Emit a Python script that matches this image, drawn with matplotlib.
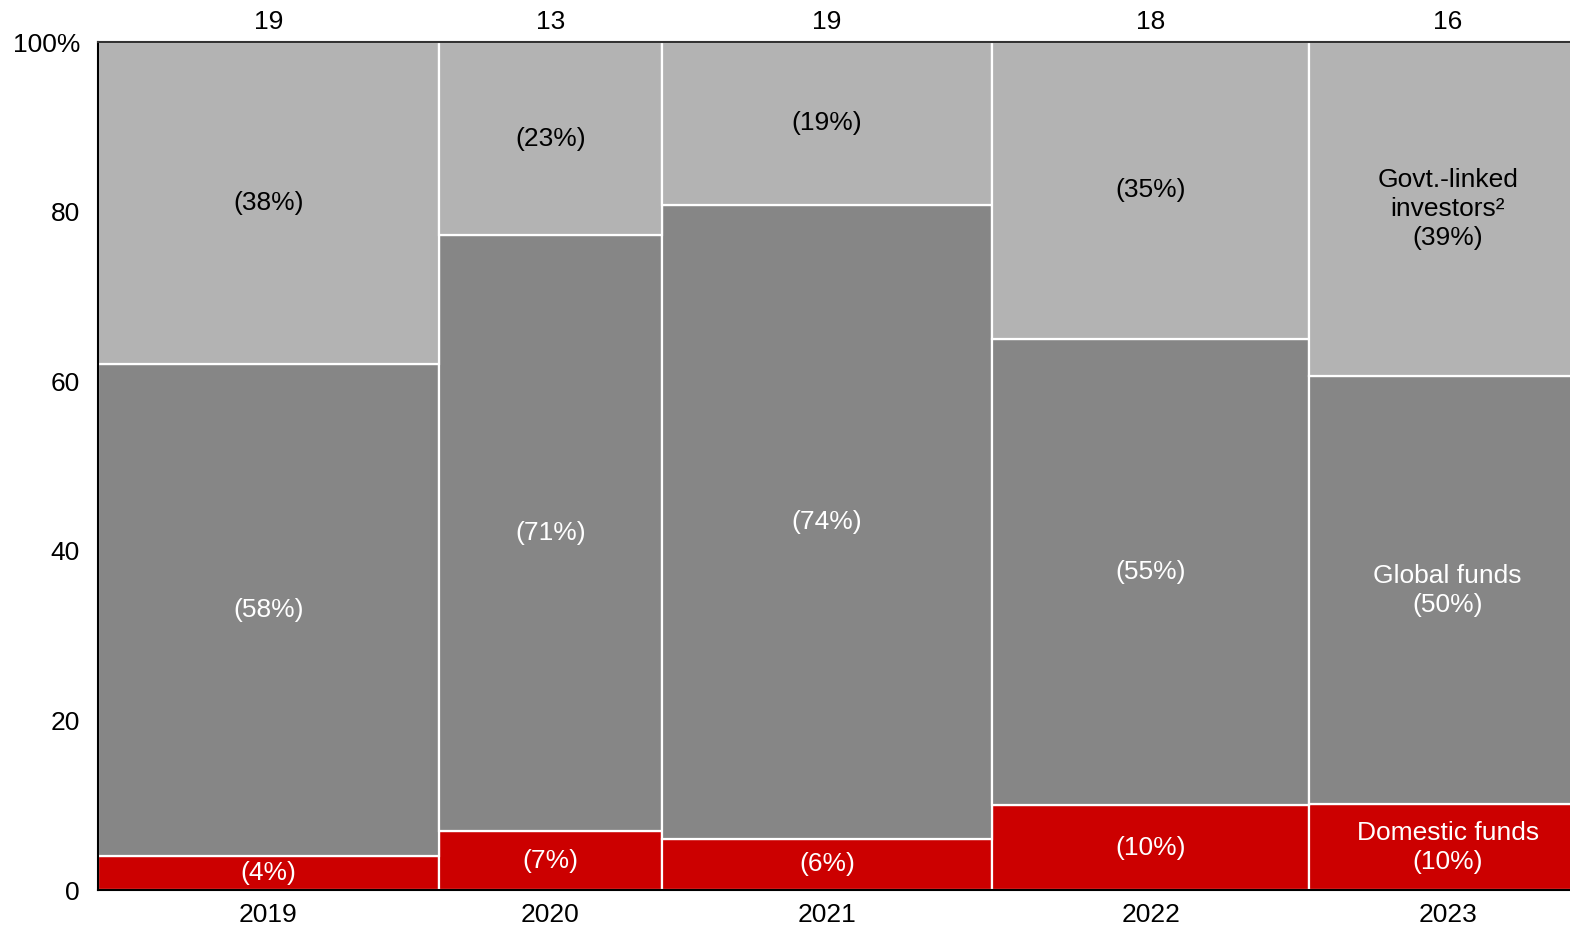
import matplotlib
matplotlib.use("Agg")
import matplotlib.pyplot as plt
import numpy as np

plt.rcParams['font.family'] = ['Liberation Sans', 'DejaVu Sans']

# Deal data by year
years = ["2019", "2020", "2021", "2022", "2023"]
deal_counts = [19, 13, 19, 18, 16]
# Column widths: share of total deal value across the period (%)
value_share = [22.9, 15.0, 22.2, 21.3, 18.6]
# Investor mix per year (% of deal value)
domestic = [4, 7, 6, 10, 10]
global_funds = [58, 71, 74, 55, 50]
govt_linked = [38, 23, 19, 35, 39]

series = [
    ("Domestic funds", domestic, "#cc0000", "white"),
    ("Global funds", global_funds, "#868686", "white"),
    ("Govt.-linked\ninvestors²", govt_linked, "#b3b3b3", "black"),
]

FS = 19

fig = plt.figure(figsize=(15.7, 9.3), dpi=100)
# the last column runs past the right edge of the figure
ax = fig.add_axes([0.0624, 0.043, 0.9478, 0.9118])

widths = np.array(value_share)
lefts = np.concatenate([[0], np.cumsum(widths)[:-1]])
centers = lefts + widths / 2
totals = np.array(domestic) + np.array(global_funds) + np.array(govt_linked)

bottom = np.zeros(len(years))
for si, (name, vals, color, tcolor) in enumerate(series):
    h = np.array(vals) / totals * 100
    ax.bar(lefts, h, width=widths, bottom=bottom, align="edge",
           color=color, edgecolor="white", linewidth=1.6, zorder=2)
    for i in range(len(years)):
        txt = f"({vals[i]}%)"
        if i == len(years) - 1:
            txt = f"{name}\n{txt}"
        ax.text(centers[i], bottom[i] + h[i] / 2, txt, ha="center", va="center",
                color=tcolor, fontsize=FS, linespacing=1.25, zorder=3)
    bottom += h

for i in range(len(years)):
    ax.text(centers[i], 101.5, str(deal_counts[i]), ha="center", va="baseline",
            fontsize=FS)

ax.set_xlim(0, widths.sum())
ax.set_ylim(0, 100)
ax.set_xticks(centers)
ax.set_xticklabels(years, fontsize=FS)
ax.set_yticks([0, 20, 40, 60, 80, 100])
ax.set_yticklabels(["0", "20", "40", "60", "80", "100%"], fontsize=FS)
ax.tick_params(axis="x", length=0, pad=9)
ax.tick_params(axis="y", length=0, pad=13)

for s in ["left", "bottom"]:
    ax.spines[s].set_color("black")
    ax.spines[s].set_linewidth(1.5)
    ax.spines[s].set_zorder(5)
ax.spines["top"].set_color("#333333")
ax.spines["top"].set_linewidth(1.5)
ax.spines["top"].set_zorder(5)
ax.spines["right"].set_visible(False)

fig.savefig("out.png", dpi=100)
